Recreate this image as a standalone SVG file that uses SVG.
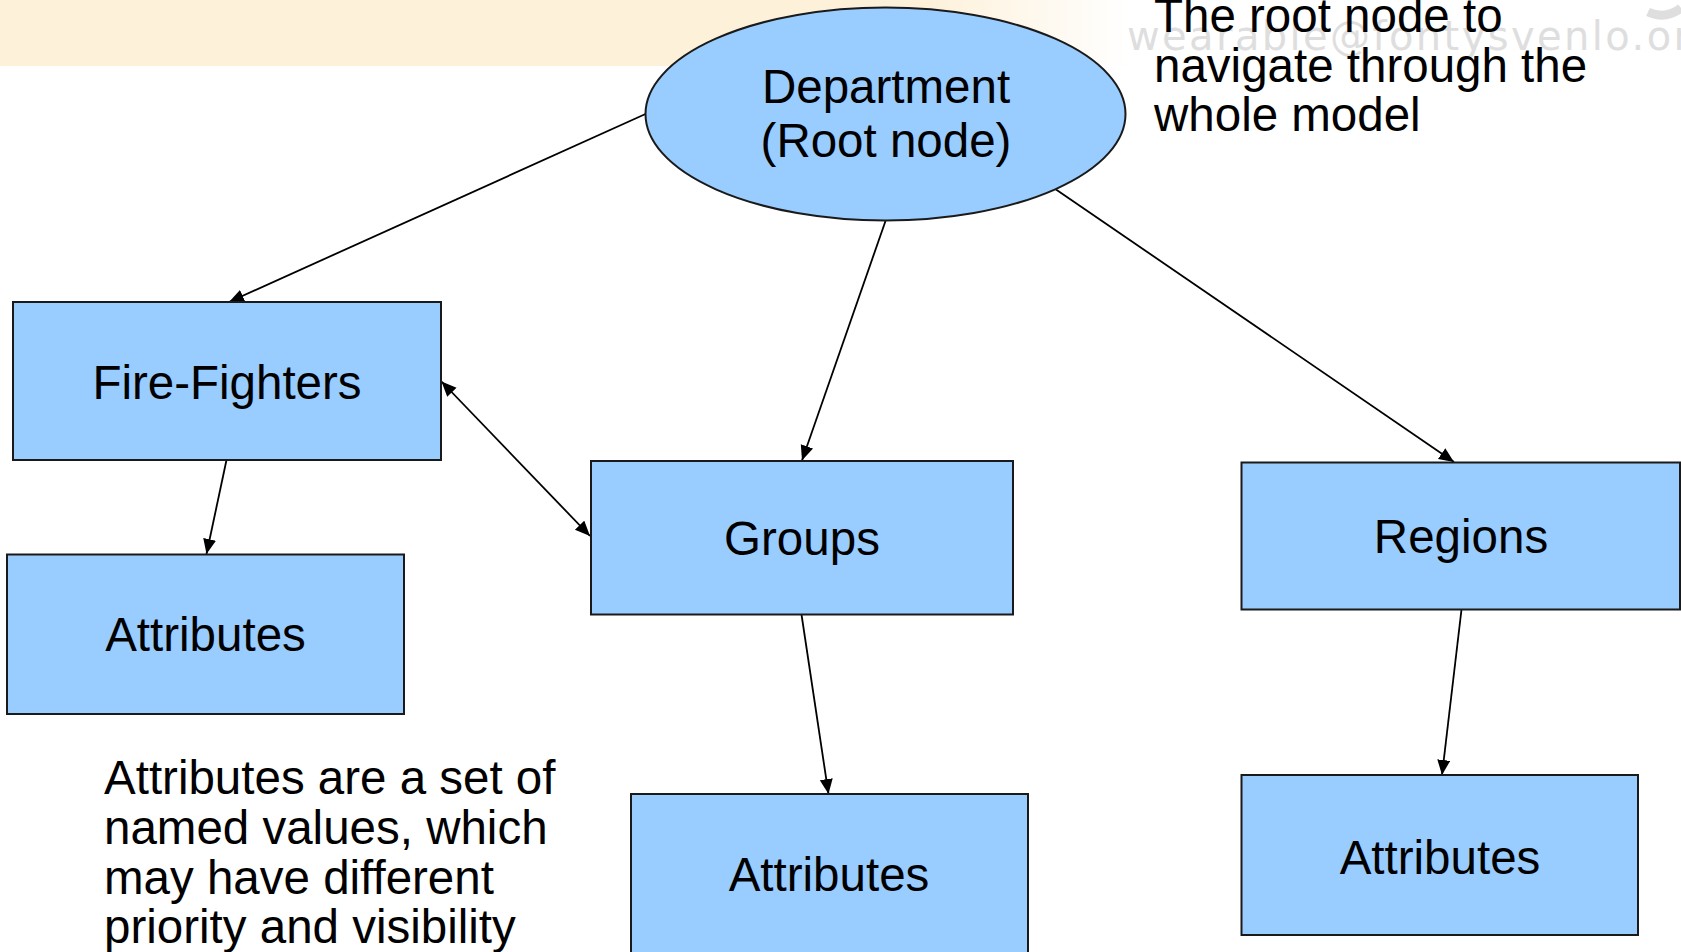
<svg xmlns="http://www.w3.org/2000/svg" width="1681" height="952" viewBox="0 0 1681 952">
  <defs>
    <linearGradient id="band" x1="0" y1="0" x2="1" y2="0">
      <stop offset="0" stop-color="#fdf1da"/>
      <stop offset="0.82" stop-color="#fdf1da"/>
      <stop offset="1" stop-color="#fdf1da" stop-opacity="0"/>
    </linearGradient>
    <marker id="arr" markerUnits="userSpaceOnUse" markerWidth="16" markerHeight="14" refX="15" refY="6.5" orient="auto-start-reverse" viewBox="0 0 16 14">
      <path d="M0,0 L15,6.5 L0,13 z" fill="#000"/>
    </marker>
    <style>
      .box { fill: #99ccff; stroke: #1a1a1a; stroke-width: 2; }
      .lbl { font-family: "Liberation Sans", Arial, sans-serif; font-size: 47.5px; fill: #000; text-anchor: middle; }
      .note { font-family: "Liberation Sans", Arial, sans-serif; font-size: 47.5px; fill: #000; }
      .conn line { stroke: #000; stroke-width: 1.8; fill: none; }
      .wm { font-family: "DejaVu Sans", Verdana, sans-serif; font-size: 40px; fill: #dedede; letter-spacing: 2.4px; }
    </style>
  </defs>

  <rect x="0" y="0" width="1130" height="66" fill="url(#band)"/>

  <g id="watermark">
    <text class="wm" x="1127" y="50">wearable@fontysvenlo.org</text>
    <path d="M1648,12 Q1666,20 1681,8" fill="none" stroke="#dedede" stroke-width="9"/>
  </g>

  <g id="connectors" class="conn">
    <line x1="645.5" y1="114" x2="229" y2="302" marker-end="url(#arr)"/>
    <line x1="885.5" y1="221" x2="802" y2="460.5" marker-end="url(#arr)"/>
    <line x1="1056" y1="189.5" x2="1454" y2="462" marker-end="url(#arr)"/>
    <line x1="226.5" y1="460" x2="206.5" y2="554" marker-end="url(#arr)"/>
    <line x1="441.5" y1="381.5" x2="590" y2="536" marker-start="url(#arr)" marker-end="url(#arr)"/>
    <line x1="801.5" y1="614.5" x2="828.5" y2="794" marker-end="url(#arr)"/>
    <line x1="1461.5" y1="609.5" x2="1442" y2="775" marker-end="url(#arr)"/>
  </g>

  <g id="department">
    <ellipse cx="885.5" cy="114" rx="240" ry="106.5" class="box" stroke="#000"/>
    <text class="lbl" x="886" y="103">Department</text>
    <text class="lbl" x="886" y="157">(Root node)</text>
  </g>

  <g id="fire-fighters">
    <rect x="13" y="302" width="428" height="158" class="box"/>
    <text class="lbl" x="227" y="399">Fire-Fighters</text>
  </g>

  <g id="groups">
    <rect x="591" y="461" width="422" height="153.5" class="box"/>
    <text class="lbl" x="802" y="555">Groups</text>
  </g>

  <g id="regions">
    <rect x="1241.5" y="462.5" width="438.5" height="147" class="box"/>
    <text class="lbl" x="1461" y="553">Regions</text>
  </g>

  <g id="attributes-ff">
    <rect x="7" y="554.5" width="397" height="159.5" class="box"/>
    <text class="lbl" x="205.5" y="651">Attributes</text>
  </g>

  <g id="attributes-groups">
    <rect x="631" y="794" width="397" height="170" class="box"/>
    <text class="lbl" x="829" y="891">Attributes</text>
  </g>

  <g id="attributes-regions">
    <rect x="1241.5" y="775" width="396.5" height="160" class="box"/>
    <text class="lbl" x="1440" y="874">Attributes</text>
  </g>

  <g id="root-note">
    <text class="note" x="1154" y="32">The root node to</text>
    <text class="note" x="1154" y="82">navigate through the</text>
    <text class="note" x="1154" y="131">whole model</text>
  </g>

  <g id="attributes-note">
    <text class="note" x="104" y="794">Attributes are a set of</text>
    <text class="note" x="104" y="844">named values, which</text>
    <text class="note" x="104" y="894">may have different</text>
    <text class="note" x="104" y="943">priority and visibility</text>
  </g>
</svg>
